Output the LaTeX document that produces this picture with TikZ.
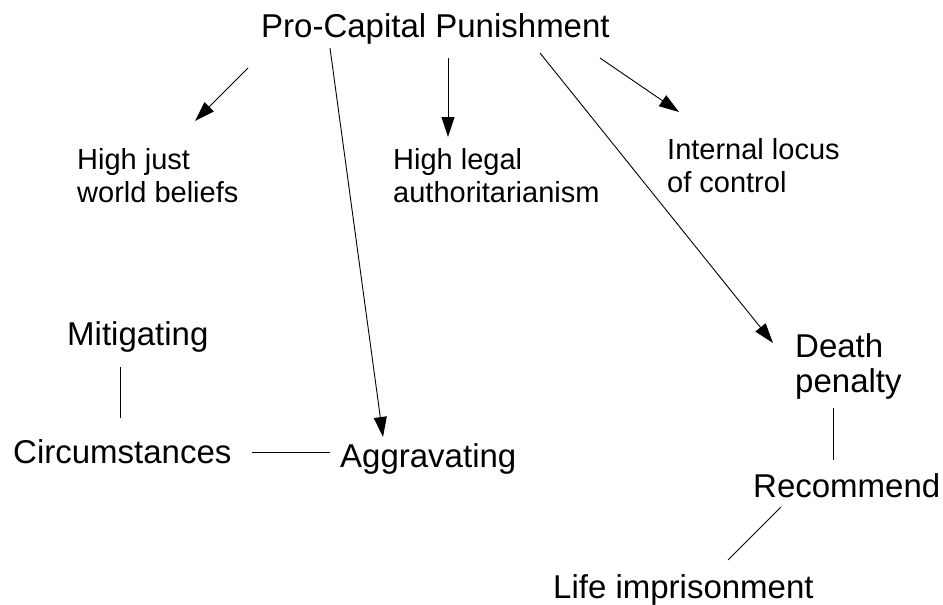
\documentclass[tikz,border=0pt]{standalone}
\usepackage{fontspec}
\setmainfont{Liberation Sans}
\usetikzlibrary{arrows.meta}

\tikzset{
  bigtext/.style={anchor=base west, inner sep=0pt, align=left, font=\fontsize{33}{35}\selectfont},
  smalltext/.style={anchor=base west, inner sep=0pt, align=left, font=\fontsize{29}{33}\selectfont},
  link/.style={line width=0.9pt},
  arr/.style={link, -{Triangle[length=20pt,width=13pt]}}
}

\begin{document}
\begin{tikzpicture}[x=1pt,y=-1pt]
\useasboundingbox (0,0) rectangle (943,605);

\node[bigtext] (pcp) at (261,37) {Pro-Capital Punishment};

% two-line labels: base is the last line
\node[smalltext] (justworld) at (77,202) {High just\\world beliefs};
\node[smalltext] (legal) at (393,202) {High legal\\authoritarianism};
\node[smalltext] (locus) at (667,192) {Internal locus\\of control};

\node[bigtext] (mitig) at (67,345) {Mitigating};
\node[bigtext] (circ) at (13,463) {Circumstances};
\node[bigtext] (aggr) at (340,467) {Aggravating};

\node[bigtext] (death) at (795,392) {Death\\penalty};
\node[bigtext] (recom) at (753,497) {Recommend};
\node[bigtext] (life) at (553,598) {Life imprisonment};

% end points of the connectors
\coordinate (pcp-jw) at (248,68);
\coordinate (jw-in) at (195,121);
\coordinate (pcp-ag) at (330,48);
\coordinate (ag-in) at (383,437);
\coordinate (pcp-la) at (448,58);
\coordinate (la-in) at (448,137);
\coordinate (pcp-lc) at (600,58);
\coordinate (lc-in) at (679,112);
\coordinate (pcp-dp) at (540,53);
\coordinate (dp-in) at (773,343);

\coordinate (mit-b) at (120,367);
\coordinate (circ-t) at (120,418);
\coordinate (circ-r) at (252,452);
\coordinate (ag-l) at (330,452);
\coordinate (dp-b) at (833,408);
\coordinate (rec-t) at (833,460);
\coordinate (rec-b) at (781,507);
\coordinate (life-t) at (728,560);

\draw[arr] (pcp-jw) -- (jw-in);
\draw[arr] (pcp-ag) -- (ag-in);
\draw[arr] (pcp-la) -- (la-in);
\draw[arr] (pcp-lc) -- (lc-in);
\draw[arr] (pcp-dp) -- (dp-in);

\draw[link] (mit-b) -- (circ-t);
\draw[link] (circ-r) -- (ag-l);
\draw[link] (dp-b) -- (rec-t);
\draw[link] (rec-b) -- (life-t);
\end{tikzpicture}
\end{document}
